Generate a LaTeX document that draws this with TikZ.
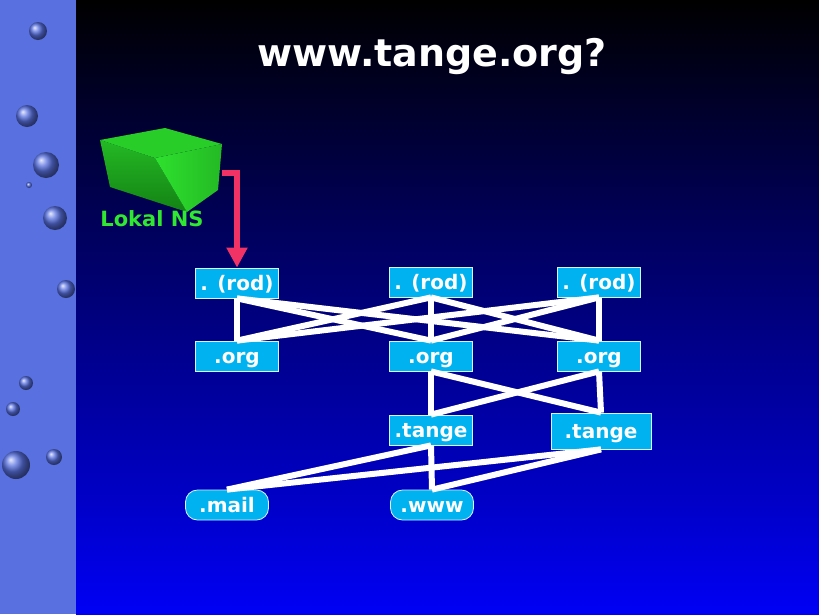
\documentclass[tikz,border=0pt]{standalone}
\usepackage{fontspec}
\setmainfont{DejaVu Sans}
\usepackage{tikz}
\usetikzlibrary{arrows.meta}
\definecolor{strip}{RGB}{88,112,224}
\definecolor{deepblue}{RGB}{0,0,245}
\definecolor{boxcyan}{RGB}{0,178,240}
\definecolor{nsgreen}{RGB}{48,232,48}
\definecolor{arrowred}{RGB}{240,50,100}
\definecolor{cubetop}{RGB}{40,205,40}
\definecolor{cubeleft}{RGB}{36,185,36}
\definecolor{cubedark}{RGB}{20,130,20}
\definecolor{cuberight}{RGB}{46,225,46}
\tikzset{
  dnsbox/.style={fill=boxcyan, draw=white!85!boxcyan, line width=0.8pt, text=white,
    minimum width=83, minimum height=30, inner sep=0pt, text height=15pt, text depth=0pt,
    font=\bfseries\fontsize{20}{20}\selectfont},
  dnsleaf/.style={dnsbox, rounded corners=12pt},
  link/.style={white, line width=6pt},
  bubble/.style={ball color=strip}
}

\begin{document}
\begin{tikzpicture}[x=1pt,y=-1pt]
\useasboundingbox (0,0) rectangle (819,614);
\fill [strip](0,0) rectangle (76,614);
\shade [top color=black, bottom color=deepblue](76,0) rectangle (819,614);
% bubbles
\shade [bubble](38,31) circle (9);
\shade [bubble](27,116) circle (11);
\shade [bubble](46,165) circle (13);
\shade [bubble](29,185) circle (3);
\shade [bubble](55,218) circle (12);
\shade [bubble](66,289) circle (9);
\shade [bubble](26,383) circle (7);
\shade [bubble](13,409) circle (7);
\shade [bubble](16,465) circle (14);
\shade [bubble](54,457) circle (8);

\node (title) at (432,56) [text=white, font=\bfseries\fontsize{38}{38}\selectfont]{www.tange.org?};

% the cube
\shade [top color=cubeleft, bottom color=cubedark](100,140) -- (155,158) -- (187,212) -- (110,187) -- cycle;
\shade [left color=cuberight, right color=cubeleft](155,158) -- (222,144) -- (218,190) -- (187,212) -- cycle;
\fill [cubetop](100,140) -- (165,128) -- (222,144) -- (155,158) -- cycle;
\node (ns) at (152,219) [text=nsgreen, font=\bfseries\fontsize{21}{21}\selectfont]{Lokal NS};

% name servers
\node (rodA) at (237,283) [dnsbox]{. (rod)};
\node (rodB) at (431,282) [dnsbox]{. (rod)};
\node (rodC) at (599,282) [dnsbox]{. (rod)};
\node (orgA) at (237,356) [dnsbox]{.org};
\node (orgB) at (431,356) [dnsbox]{.org};
\node (orgC) at (599,356) [dnsbox]{.org};
\node (tangeB) at (431,430) [dnsbox]{.tange};
\node (tangeC) at (601,431) [dnsbox, minimum width=100, minimum height=36]{.tange};
\node (mail) at (227,505) [dnsleaf]{.mail};
\node (www) at (432,505) [dnsleaf]{.www};

\coordinate (cubeout) at (222,173);
\draw [arrowred, line width=6pt, -{Triangle[length=20pt,width=20pt]}](cubeout) -| (rodA.north);

\draw [link](rodA.south) -- (orgA.north);
\draw [link](rodA.south) -- (orgB.north);
\draw [link](rodA.south) -- (orgC.north);
\draw [link](rodB.south) -- (orgA.north);
\draw [link](rodB.south) -- (orgB.north);
\draw [link](rodB.south) -- (orgC.north);
\draw [link](rodC.south) -- (orgA.north);
\draw [link](rodC.south) -- (orgB.north);
\draw [link](rodC.south) -- (orgC.north);
\draw [link](orgB.south) -- (tangeB.north);
\draw [link](orgB.south) -- (tangeC.north);
\draw [link](orgC.south) -- (tangeB.north);
\draw [link](orgC.south) -- (tangeC.north);
\draw [link](tangeB.south) -- (mail.north);
\draw [link](tangeB.south) -- (www.north);
\draw [link](tangeC.south) -- (mail.north);
\draw [link](tangeC.south) -- (www.north);

\end{tikzpicture}
\end{document}
